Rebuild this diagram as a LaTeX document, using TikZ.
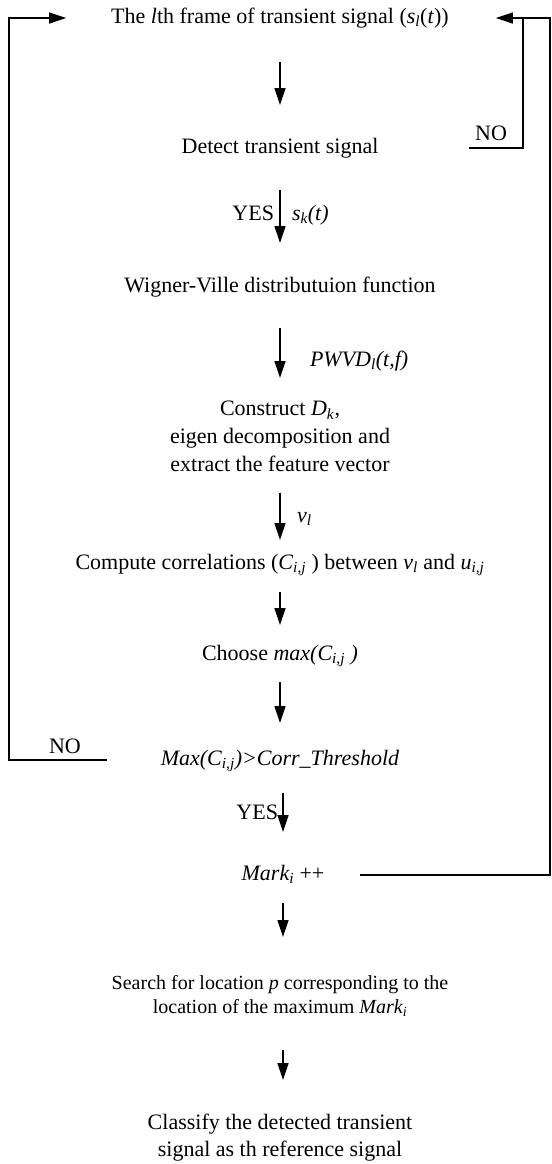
\documentclass[tikz,border=0pt]{standalone}
\usepackage{fontspec}
\setmainfont{Liberation Serif}
\usetikzlibrary{arrows.meta}
\newcommand{\sbs}[1]{\textsubscript{\textit{#1}}}
\begin{document}
\begin{tikzpicture}[x=1bp,y=-1bp,
  txt/.style={inner sep=0pt,outer sep=0pt,text height=15bp,text depth=5bp,font=\fontsize{22bp}{26bp}\selectfont},
  mtxt/.style={inner sep=0pt,outer sep=0pt,align=center,anchor=north,font=\fontsize{22bp}{28bp}\selectfont},
  stxt/.style={inner sep=0pt,outer sep=0pt,align=center,anchor=north,font=\fontsize{20bp}{24bp}\selectfont},
  lbl/.style={inner sep=0pt,outer sep=0pt,text height=15bp,text depth=5bp,font=\fontsize{22bp}{26bp}\selectfont},
  arr/.style={line width=1.3bp,-{Triangle[length=17bp,width=11bp]}},
  ln/.style={line width=1.3bp}]
\useasboundingbox[fill=white] (0,0) rectangle (552,1164);
% nodes
\node[txt] (title) at (280,18) {The \textit{l}th frame of transient signal (\textit{s\textsubscript{l}}(\textit{t}))};
\node[txt] (detect) at (280,148) {Detect transient signal};
\node[txt] (wigner) at (280,287) {Wigner-Ville distributuion function};
\node[mtxt] (construct) at (280,401) {Construct \textit{D}\sbs{k},\\eigen decomposition and\\extract the feature vector};
\node[txt] (compute) at (280,564) {Compute correlations (\textit{C}\sbs{i,j} ) between \textit{v}\sbs{l} and \textit{u}\sbs{i,j}};
\node[txt] (choose) at (280,655) {Choose \textit{max(C\textsubscript{i,j} )}};
\node[txt] (max) at (280,760) {\textit{Max(C\textsubscript{i,j})>Corr\_Threshold}};
\node[txt] (mark) at (283,875) {\textit{Mark\textsubscript{i}} ++};
\node[stxt] (search) at (280,975) {Search for location \textit{p} corresponding to the\\location of the maximum \textit{Mark\textsubscript{i}}};
\node[mtxt,font=\fontsize{22bp}{27bp}\selectfont] (classify) at (280,1114) {Classify the detected transient\\signal as th reference signal};
% labels
\node[lbl,anchor=east] (yes1) at (274,215) {YES};
\node[lbl,anchor=west] (sk) at (292,215) {\textit{s\textsubscript{k}(t)}};
\node[lbl,anchor=west] (pwvd) at (310,361) {\textit{PWVD\textsubscript{l}(t,f)}};
\node[lbl,anchor=west] (vl) at (297,517) {\textit{v\textsubscript{l}}};
\node[lbl,anchor=east] (yes2) at (278,814) {YES};
\node[lbl] (noL) at (65,748) {NO};
\node[lbl] (noR) at (491,135) {NO};
% corner coordinates
\coordinate (lB) at (9,760);
\coordinate (rB) at (523,148);
\coordinate (rT) at (523,18);
\coordinate (oX) at (550,0);
% main arrows
\draw[arr,shorten <=34bp,shorten >=33bp] (title.south) -- (detect.north);
\draw[arr,shorten <=32bp,shorten >=34bp] (detect.south) -- (wigner.north);
\draw[arr,shorten <=31bp,shorten >=23bp] (wigner.south) -- (construct.north);
\draw[arr,shorten <=21bp,shorten >=14bp] (construct.south) -- (compute.north);
\draw[arr,shorten <=18bp,shorten >=20bp] (compute.south) -- (choose.north);
\draw[arr,shorten <=17bp,shorten >=27bp] (choose.south) -- (max.north);
\draw[arr,shorten <=23bp,shorten >=33bp] (max.south -| mark.north) -- (mark.north);
\draw[arr,shorten <=18bp,shorten >=38bp] (mark.south) -- (mark.south |- search.north);
\draw[arr,shorten <=34bp,shorten >=34bp] (search.south -| mark.south) -- (classify.north -| mark.south);
% loops
\draw[arr,shorten <=54bp,shorten >=45bp] (max.west) -- (lB) |- (title.west);
\draw[arr,shorten <=91bp,shorten >=47bp] (detect.east) -- (rB) |- (title.east);
\draw[ln,shorten <=36bp] (mark.east) -- (mark.east -| oX) |- (rT);
\end{tikzpicture}
\end{document}
